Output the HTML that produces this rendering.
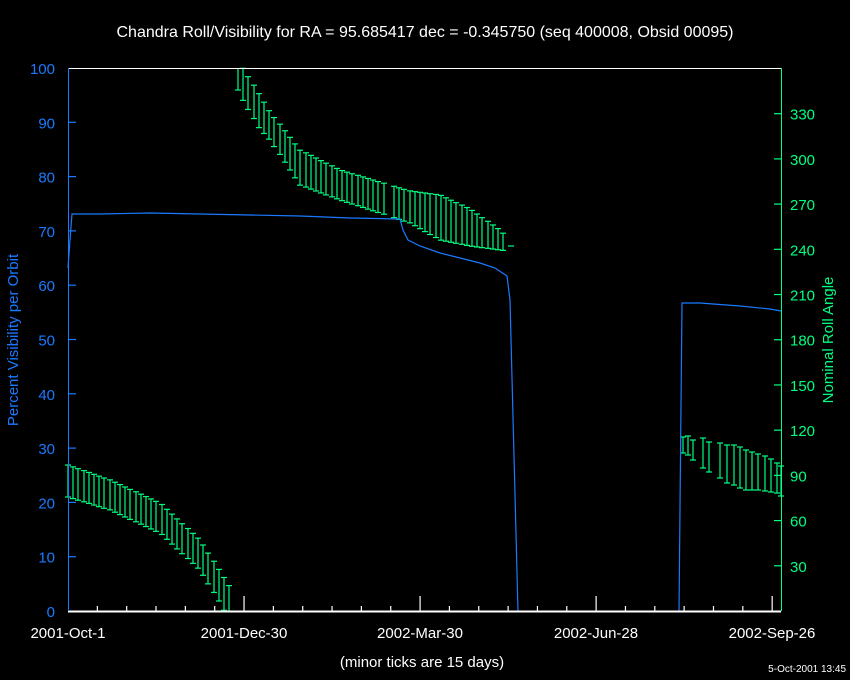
<!DOCTYPE html>
<html><head><meta charset="utf-8"><style>
html,body{margin:0;padding:0;background:#000;}
svg{display:block;}
text{font-family:"Liberation Sans",sans-serif;}
</style></head><body>
<svg id="s" width="850" height="680" xmlns="http://www.w3.org/2000/svg">
<rect width="850" height="680" fill="#000"/>
<text x="425" y="37" fill="#fff" font-size="16" text-anchor="middle">Chandra Roll/Visibility for RA = 95.685417 dec = -0.345750 (seq 400008, Obsid 00095)</text>
<g id="g"></g>
<line x1="68" y1="68.5" x2="781" y2="68.5" stroke="#fff"/>
<line x1="68" y1="611.5" x2="781" y2="611.5" stroke="#fff" stroke-width="2"/>
<line x1="68.5" y1="68" x2="68.5" y2="611" stroke="#1a7aff"/>
<line x1="781.5" y1="68" x2="781.5" y2="611" stroke="#00ff80"/>
<text x="422" y="667" fill="#fff" font-size="15" text-anchor="middle">(minor ticks are 15 days)</text>
<text x="846" y="672" fill="#fff" font-size="10" text-anchor="end">5-Oct-2001 13:45</text>
<text transform="translate(18,340) rotate(-90)" fill="#1a7aff" font-size="15" text-anchor="middle">Percent Visibility per Orbit</text>
<text transform="translate(833,340) rotate(-90)" fill="#00ff80" font-size="15" text-anchor="middle">Nominal Roll Angle</text>
</svg>
<script>
var g=document.getElementById('g'),h='';
function L(a,b,c,d,col){h+='<line x1="'+a+'" y1="'+b+'" x2="'+c+'" y2="'+d+'" stroke="'+col+'" stroke-width="1.2"/>';}
function T(x,y,t,col,anc){h+='<text x="'+x+'" y="'+y+'" fill="'+col+'" font-size="15" text-anchor="'+anc+'">'+t+'</text>';}
var B='#1a7aff',G='#00ff80',W='#fff';
for(var v=0;v<=100;v+=10){var y=611-v*5.43;T(55,y+6,v,B,'end');if(v>0&&v<100)L(68,y,76,y,B);}
for(var v=30;v<=330;v+=30){var y=611-v*1.507;T(790,y+6,v,G,'start');L(774,y,781,y,G);}
var labs=['2001-Oct-1','2001-Dec-30','2002-Mar-30','2002-Jun-28','2002-Sep-26'];
for(var i=0;i<5;i++){var x=68+i*176;T(x,638,labs[i],W,'middle');}
for(var d=15;d<365;d+=15){var x=68+d*1.956;var maj=(d%90==0);L(x,611,x,maj?596:606,W);}
function ip(p,x){for(var i=0;i<p.length-1;i++){if(x>=p[i][0]&&x<=p[i+1][0]){var t=(x-p[i][0])/(p[i+1][0]-p[i][0]);return p[i][1]+t*(p[i+1][1]-p[i][1]);}}return p[p.length-1][1];}
function bar(x,t,b){t=Math.max(68,t);b=Math.min(611,b);L(x,t,x,b,G);if(t>68)L(x-3,t,x+3,t,G);if(b<611)L(x-3,b,x+3,b,G);}
var t1=[[68,465],[110,480],[160,503],[200,540],[232,590]],b1=[[68,497],[110,510],[160,533],[200,570],[220,603],[232,625]];
for(var x=68;x<=233;x+=5.2)bar(Math.round(x),ip(t1,x),ip(b1,x));
var t2=[[238,55],[243,68],[248,76],[259,94],[270,112],[300,150],[340,170],[383,183],[410,191],[440,195],[470,209],[500,230],[508,238]],
b2=[[238,90],[243,100],[259,128],[270,140],[300,185],[340,200],[383,214],[410,223],[440,240],[470,246],[500,250],[508,251]];
for(var x=238;x<=508;x+=5.2){if(x>386&&x<392)continue;bar(Math.round(x),ip(t2,x),ip(b2,x));}
L(508,246,514,246,G);
var s3=[[683,437,453],[688,436,455],[693,440,460],[703,438,468],[709,442,472],[720,443,478],[727,445,483],[734,445,485],[740,447,488],[746,450,490],[752,452,490],[758,454,490],[765,456,491],[771,459,492],[777,463,493],[781,466,496]];
s3.forEach(function(a){bar(a[0],a[1],a[2]);});
h+='<polyline fill="none" stroke="'+B+'" stroke-width="1.2" points="68,268 70,240 72,214 100,214 150,213 250,215 300,216 350,218 400,219 403,230 408,240 420,246 440,253 460,258 480,263 495,268 507,276 510,300 518,611.5 679,611.5 682,303 700,303 740,306 770,309 781,311"/>';
g.innerHTML=h;
</script>
</body></html>
